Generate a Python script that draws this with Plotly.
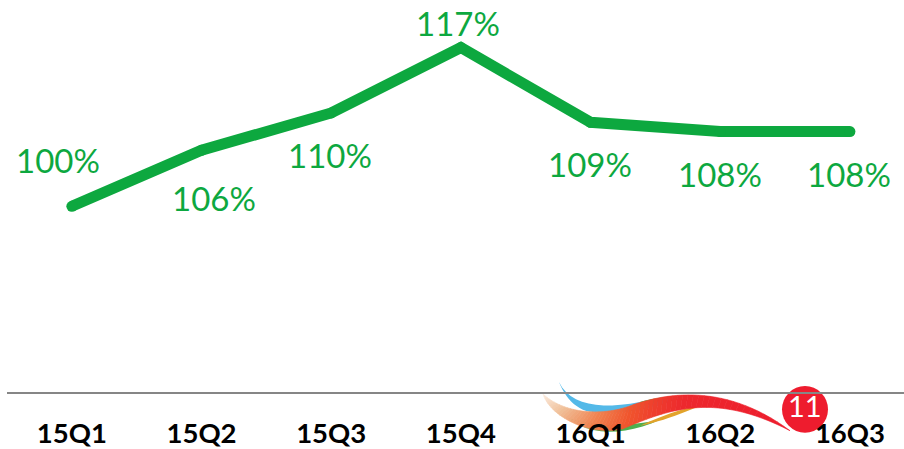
import plotly.graph_objects as go

# Chart data
categories = ["15Q1", "15Q2", "15Q3", "15Q4", "16Q1", "16Q2", "16Q3"]
values = [100, 106, 110, 117, 109, 108, 108]
labels = ["100%", "106%", "110%", "117%", "109%", "108%", "108%"]
label_dx = [-14, 12, -1, -3, -1, 0, -1]
label_dy = [-46, 48, 42, -25, 42, 42, 42]

GREEN = "#0DA83F"
W, H = 904, 449
ML, MB = 7, 54
px = lambda x: (x - ML) / (W - ML)
py = lambda y: 1 - y / (H - MB)


def bez(p0, p1, p2, p3, n=12):
    pts = []
    for i in range(n + 1):
        t = i / n
        u = 1 - t
        pts.append((u**3 * p0[0] + 3 * u * u * t * p1[0] + 3 * u * t * t * p2[0] + t**3 * p3[0],
                    u**3 * p0[1] + 3 * u * u * t * p1[1] + 3 * u * t * t * p2[1] + t**3 * p3[1]))
    return pts


def path(pts):
    return "M" + " L".join(f"{px(x):.5f},{py(y):.5f}" for x, y in pts) + " Z"


def lerp(a, b, t):
    return tuple(round(a[i] + (b[i] - a[i]) * t) for i in range(3))


def ribbon(pts, color):
    return dict(type="path", path=path(pts), xref="paper", yref="paper", fillcolor=color,
                line_width=0, layer="below")


shapes = []
# pale blue tip, then blue ribbon, green and gold accents (all underneath the main ribbon)
blue = bez((559, 385), (570, 408), (600, 413), (640, 405)) + bez((640, 405), (655, 402), (665, 401), (680, 400))
blue += bez((680, 400), (650, 415), (620, 418), (590, 415)) + bez((590, 415), (575, 412), (565, 400), (559, 385))
shapes.append(ribbon(blue, "#54B9E8"))
shapes.append(ribbon(bez((640, 405), (650, 402), (662, 400), (676, 399)) + bez((676, 399), (660, 404), (650, 408), (640, 410)), "#4DB04F"))
shapes.append(ribbon(bez((566, 420), (590, 440), (625, 439), (660, 423)) + bez((660, 423), (625, 430), (595, 430), (566, 420)), "#4DB04F"))
shapes.append(ribbon(bez((640, 429), (665, 424), (685, 415), (705, 407)) + bez((705, 407), (680, 412), (660, 420), (640, 429)), "#E2A32B"))

# main ribbon, sliced into colour steps
top = bez((543, 397), (563, 416), (600, 420), (630, 409), 30) + bez((630, 409), (665, 396), (725, 385), (790, 434), 30)[1:]
bot = bez((543, 397), (550, 420), (590, 440), (623, 432), 30) + bez((623, 432), (670, 412), (715, 395), (790, 434), 30)[1:]
stops = [(0.0, (250, 235, 222)), (0.15, (240, 190, 150)), (0.33, (240, 130, 80)),
         (0.5, (240, 85, 45)), (0.7, (237, 40, 45)), (1.0, (237, 28, 45))]


def colour(t):
    for (a, ca), (b, cb) in zip(stops, stops[1:]):
        if t <= b:
            return "rgb(%d,%d,%d)" % lerp(ca, cb, (t - a) / (b - a))
    return "rgb(237,28,45)"


n = len(top) - 1
for i in range(n):
    seg = [top[i], top[i + 1], bot[i + 1], bot[i]]
    shapes.append(dict(type="path", path=path(seg), xref="paper", yref="paper", fillcolor=colour(i / n),
                       line=dict(color=colour(i / n), width=0.6), layer="below"))
# badge
shapes.append(dict(type="circle", xref="paper", yref="paper", x0=px(782), x1=px(828), y0=py(436), y1=py(389),
                   fillcolor="#EE1C2E", line_width=0, layer="below"))

fig = go.Figure()
fig.add_trace(go.Scatter(x=categories, y=values, mode="lines+markers", cliponaxis=False,
                         line=dict(color=GREEN, width=11, shape="linear"),
                         marker=dict(color=GREEN, size=11), hoverinfo="skip"))

annotations = [
    dict(x=c, y=v, text=t, xref="x", yref="y", showarrow=False, xshift=dx, yshift=-dy,
         font=dict(family="Lato, Carlito, sans-serif", size=33, color=GREEN))
    for c, v, t, dx, dy in zip(categories, values, labels, label_dx, label_dy)
]
annotations.append(dict(x=px(805), y=py(409), xref="paper", yref="paper", text="11", showarrow=False,
                        xanchor="center", yanchor="middle",
                        font=dict(family="Lato, sans-serif", size=29, color="white")))

fig.update_layout(
    width=W, height=H, autosize=False,
    margin=dict(l=ML, r=0, t=0, b=MB),
    paper_bgcolor="white", plot_bgcolor="rgba(0,0,0,0)",
    showlegend=False,
    shapes=shapes,
    annotations=annotations,
    xaxis=dict(type="category", categoryorder="array", categoryarray=categories,
               range=[-0.5, 6.417], showgrid=False, zeroline=False, showline=True,
               linecolor="#868686", linewidth=1.5, ticks="", ticklabelstandoff=16,
               tickfont=dict(family="Lato, sans-serif", size=27.5, color="black", weight="bold")),
    yaxis=dict(range=[80.1, 122.1], visible=False),
)
fig.write_html("out.html", config=dict(displayModeBar=False),
               post_script="document.body.style.margin='0';window.dispatchEvent(new Event('resize'));")
